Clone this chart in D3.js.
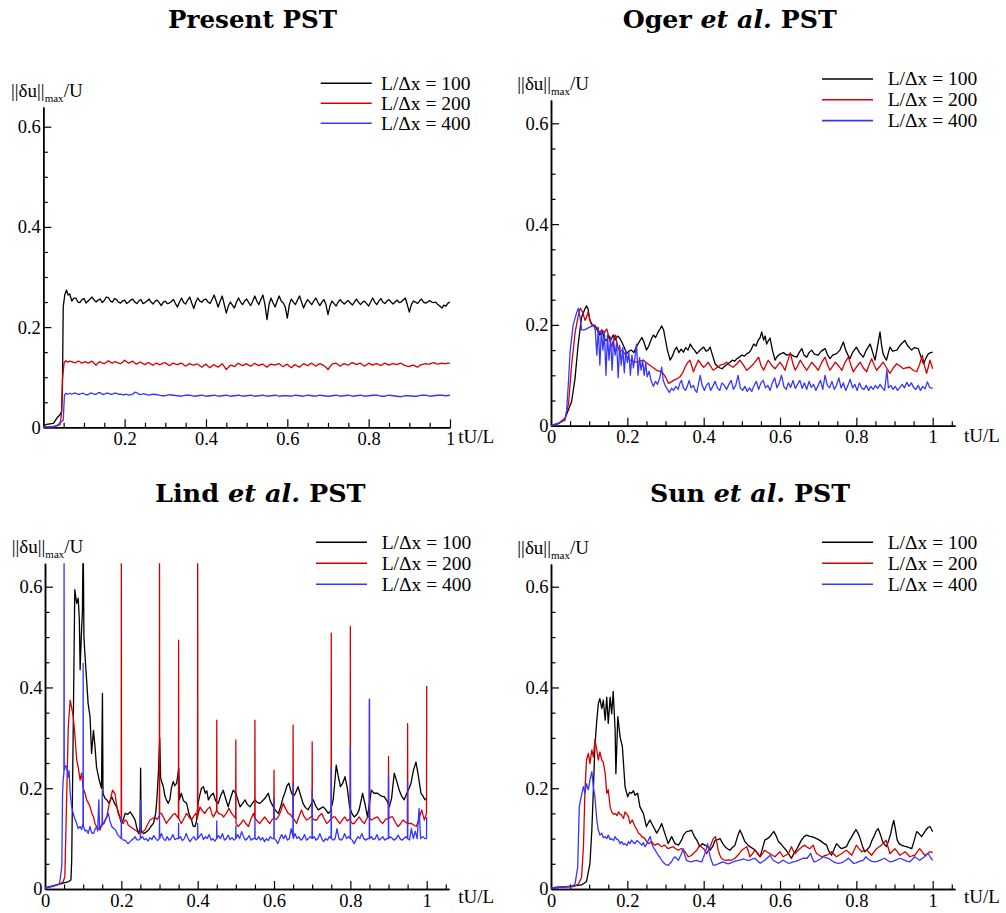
<!DOCTYPE html>
<html>
<head>
<meta charset="utf-8">
<script src="https://cdn.jsdelivr.net/npm/d3@7"></script>
<style>
  body { margin: 0; background: #fff; }
</style>
</head>
<body>
<svg id="fig" width="1006" height="913"></svg>
<script>
// ---- data: [tU/L, ||du||max/U] ----
var seriesNames = ["L/\u0394x = 100", "L/\u0394x = 200", "L/\u0394x = 400"];
var seriesColors = ["#000000", "#d40000", "#3636ff"];
var xTickValues = [0.2, 0.4, 0.6, 0.8, 1];
var yTickValues = [0, 0.2, 0.4, 0.6];
var titles = [["Present", "", "PST"], ["Oger", "et al.", "PST"], ["Lind", "et al.", "PST"], ["Sun", "et al.", "PST"]];

var presentK = [[0,0.002],[0.008,0.006],[0.025,0.008],[0.033,0.018],[0.041,0.025],[0.045,0.032],[0.047,0.075],[0.049,0.241],[0.053,0.265],[0.057,0.274],[0.061,0.264],[0.065,0.266],
 [0.07,0.252],[0.075,0.258],[0.08,0.258],[0.085,0.25],[0.09,0.249],[0.095,0.255],[0.10,0.257],[0.105,0.248],[0.11,0.252],[0.115,0.256],[0.12,0.26],[0.125,0.254],[0.13,0.25],[0.135,0.254],
 [0.14,0.256],[0.145,0.249],[0.15,0.253],[0.155,0.26],[0.16,0.259],[0.165,0.252],[0.17,0.25],[0.175,0.257],[0.18,0.255],[0.185,0.25],[0.19,0.248],[0.195,0.252],[0.20,0.254],[0.205,0.247],
 [0.21,0.25],[0.215,0.254],[0.22,0.256],[0.225,0.25],[0.23,0.247],[0.235,0.252],[0.24,0.255],[0.245,0.247],[0.25,0.249],[0.255,0.252],[0.26,0.256],[0.265,0.25],[0.27,0.246],[0.275,0.252],
 [0.28,0.254],[0.285,0.249],[0.29,0.243],[0.295,0.25],[0.30,0.252],[0.305,0.247],[0.31,0.248],[0.315,0.251],[0.32,0.255],[0.325,0.247],[0.33,0.24],[0.335,0.25],[0.34,0.258],[0.345,0.249],
 [0.35,0.246],[0.355,0.254],[0.36,0.26],[0.365,0.248],[0.37,0.237],[0.375,0.25],[0.38,0.258],[0.385,0.252],[0.39,0.25],[0.395,0.255],[0.40,0.256],[0.405,0.25],[0.41,0.247],[0.415,0.255],
 [0.42,0.264],[0.425,0.252],[0.43,0.24],[0.435,0.252],[0.44,0.262],[0.445,0.245],[0.45,0.228],[0.455,0.242],[0.46,0.25],[0.465,0.244],[0.47,0.238],[0.475,0.25],[0.48,0.258],[0.485,0.25],
 [0.49,0.245],[0.495,0.252],[0.50,0.256],[0.505,0.249],[0.51,0.243],[0.515,0.252],[0.52,0.262],[0.525,0.252],[0.53,0.245],[0.535,0.255],[0.54,0.264],[0.545,0.245],[0.55,0.215],[0.555,0.245],
 [0.56,0.258],[0.565,0.248],[0.57,0.24],[0.575,0.252],[0.58,0.262],[0.585,0.252],[0.59,0.248],[0.595,0.24],[0.60,0.218],[0.605,0.245],[0.61,0.256],[0.615,0.25],[0.62,0.245],[0.625,0.254],
 [0.63,0.262],[0.635,0.25],[0.64,0.238],[0.645,0.248],[0.65,0.255],[0.655,0.25],[0.66,0.245],[0.665,0.252],[0.67,0.258],[0.675,0.25],[0.68,0.243],[0.685,0.25],[0.69,0.255],[0.695,0.245],
 [0.70,0.225],[0.705,0.243],[0.71,0.252],[0.715,0.247],[0.72,0.242],[0.725,0.25],[0.73,0.255],[0.735,0.25],[0.74,0.246],[0.745,0.25],[0.75,0.253],[0.755,0.248],[0.76,0.244],[0.765,0.25],
 [0.77,0.256],[0.775,0.25],[0.78,0.245],[0.785,0.25],[0.79,0.252],[0.795,0.247],[0.80,0.242],[0.805,0.25],[0.81,0.258],[0.815,0.25],[0.82,0.245],[0.825,0.252],[0.83,0.257],[0.835,0.25],
 [0.84,0.247],[0.845,0.252],[0.85,0.255],[0.855,0.25],[0.86,0.246],[0.865,0.25],[0.87,0.254],[0.875,0.249],[0.88,0.25],[0.885,0.254],[0.89,0.258],[0.895,0.245],[0.90,0.23],[0.905,0.245],
 [0.91,0.252],[0.915,0.25],[0.92,0.247],[0.925,0.252],[0.93,0.256],[0.935,0.25],[0.94,0.248],[0.945,0.25],[0.95,0.253],[0.955,0.25],[0.96,0.249],[0.965,0.25],[0.97,0.245],[0.975,0.242],
 [0.98,0.238],[0.985,0.244],[0.99,0.242],[0.995,0.248],[1,0.25]];
var presentR = [[0,0.001],[0.02,0.001],[0.041,0.005],[0.045,0.028],[0.047,0.095],[0.051,0.128],[0.055,0.133],
 [0.06,0.13],[0.065,0.132],[0.07,0.131],[0.075,0.129],[0.08,0.129],[0.085,0.132],[0.09,0.131],[0.095,0.128],[0.10,0.13],[0.105,0.131],[0.11,0.128],[0.115,0.13],[0.12,0.132],[0.125,0.128],
 [0.13,0.124],[0.135,0.129],[0.14,0.131],[0.145,0.128],[0.15,0.127],[0.155,0.13],[0.16,0.133],[0.165,0.13],[0.17,0.128],[0.175,0.131],[0.18,0.13],[0.185,0.128],[0.19,0.127],[0.195,0.13],
 [0.20,0.134],[0.205,0.131],[0.21,0.128],[0.215,0.13],[0.22,0.132],[0.225,0.128],[0.23,0.126],[0.235,0.129],[0.24,0.13],[0.245,0.127],[0.25,0.125],[0.255,0.128],[0.26,0.129],[0.265,0.126],
 [0.27,0.124],[0.275,0.127],[0.28,0.128],[0.285,0.125],[0.29,0.126],[0.295,0.128],[0.30,0.129],[0.305,0.126],[0.31,0.123],[0.315,0.126],[0.32,0.128],[0.325,0.126],[0.33,0.125],[0.335,0.127],
 [0.34,0.128],[0.345,0.125],[0.35,0.122],[0.355,0.125],[0.36,0.127],[0.365,0.125],[0.37,0.124],[0.375,0.126],[0.38,0.126],[0.385,0.123],[0.39,0.12],[0.395,0.124],[0.40,0.126],[0.405,0.122],
 [0.41,0.119],[0.415,0.123],[0.42,0.125],[0.425,0.122],[0.43,0.12],[0.435,0.124],[0.44,0.127],[0.445,0.121],[0.45,0.115],[0.455,0.12],[0.46,0.124],[0.465,0.123],[0.47,0.121],[0.475,0.125],
 [0.48,0.128],[0.485,0.125],[0.49,0.123],[0.495,0.125],[0.50,0.127],[0.505,0.124],[0.51,0.122],[0.515,0.125],[0.52,0.128],[0.525,0.125],[0.53,0.123],[0.535,0.125],[0.54,0.126],[0.545,0.123],
 [0.55,0.12],[0.555,0.124],[0.56,0.126],[0.565,0.125],[0.57,0.124],[0.575,0.126],[0.58,0.127],[0.585,0.124],[0.59,0.121],[0.595,0.124],[0.60,0.126],[0.605,0.122],[0.61,0.119],[0.615,0.123],
 [0.62,0.125],[0.625,0.122],[0.63,0.12],[0.635,0.124],[0.64,0.127],[0.645,0.125],[0.65,0.123],[0.655,0.126],[0.66,0.128],[0.665,0.125],[0.67,0.122],[0.675,0.125],[0.68,0.127],[0.685,0.125],
 [0.69,0.123],[0.695,0.12],[0.70,0.115],[0.705,0.121],[0.71,0.126],[0.715,0.127],[0.72,0.128],[0.725,0.125],[0.73,0.122],[0.735,0.125],[0.74,0.127],[0.745,0.125],[0.75,0.124],[0.755,0.127],
 [0.76,0.129],[0.765,0.127],[0.77,0.125],[0.775,0.127],[0.78,0.128],[0.785,0.125],[0.79,0.122],[0.795,0.125],[0.80,0.128],[0.805,0.126],[0.81,0.124],[0.815,0.126],[0.82,0.127],[0.825,0.125],
 [0.83,0.123],[0.835,0.126],[0.84,0.128],[0.845,0.126],[0.85,0.124],[0.855,0.126],[0.86,0.127],[0.865,0.126],[0.87,0.125],[0.875,0.127],[0.88,0.128],[0.885,0.125],[0.89,0.123],[0.895,0.122],
 [0.90,0.121],[0.905,0.123],[0.91,0.124],[0.915,0.122],[0.92,0.12],[0.925,0.123],[0.93,0.125],[0.935,0.126],[0.94,0.127],[0.945,0.126],[0.95,0.126],[0.955,0.128],[0.96,0.129],[0.965,0.127],
 [0.97,0.126],[0.975,0.127],[0.98,0.128],[0.985,0.127],[0.99,0.127],[0.995,0.128],[1,0.128]];
var presentB = [[0,0.001],[0.03,0.001],[0.049,0.014],[0.052,0.064],[0.056,0.068],[0.06,0.066],[0.065,0.068],[0.07,0.066],[0.075,0.068],[0.08,0.068],[0.085,0.066],[0.09,0.066],[0.095,0.068],
 [0.10,0.067],[0.105,0.065],[0.11,0.065],[0.115,0.068],[0.12,0.068],[0.125,0.066],[0.13,0.066],[0.135,0.069],[0.14,0.069],[0.145,0.066],[0.15,0.066],[0.155,0.068],[0.16,0.068],[0.165,0.066],
 [0.17,0.066],[0.175,0.068],[0.18,0.068],[0.185,0.066],[0.19,0.066],[0.195,0.065],[0.2,0.065],[0.205,0.066],[0.21,0.064],[0.215,0.065],[0.22,0.066],[0.225,0.07],[0.23,0.069],[0.235,0.066],
 [0.24,0.065],[0.245,0.067],[0.25,0.066],[0.255,0.065],[0.26,0.064],[0.27,0.066],[0.28,0.065],[0.29,0.063],[0.3,0.063],[0.31,0.065],[0.32,0.064],[0.33,0.063],[0.34,0.062],[0.35,0.064],
 [0.36,0.064],[0.37,0.062],[0.38,0.063],[0.39,0.064],[0.4,0.062],[0.41,0.063],[0.42,0.064],[0.43,0.062],[0.44,0.063],[0.45,0.064],[0.46,0.062],[0.47,0.063],[0.48,0.064],[0.49,0.062],
 [0.5,0.063],[0.51,0.064],[0.52,0.062],[0.53,0.063],[0.54,0.064],[0.55,0.062],[0.56,0.063],[0.57,0.064],[0.58,0.062],[0.59,0.063],[0.6,0.063],[0.61,0.062],[0.62,0.064],[0.63,0.063],
 [0.64,0.062],[0.65,0.064],[0.66,0.063],[0.67,0.062],[0.68,0.064],[0.69,0.063],[0.7,0.062],[0.71,0.063],[0.72,0.064],[0.73,0.062],[0.74,0.063],[0.75,0.064],[0.76,0.062],[0.77,0.063],
 [0.78,0.064],[0.79,0.062],[0.8,0.063],[0.81,0.064],[0.82,0.064],[0.83,0.062],[0.84,0.062],[0.85,0.064],[0.86,0.063],[0.87,0.062],[0.88,0.061],[0.89,0.063],[0.9,0.063],[0.91,0.062],
 [0.92,0.062],[0.93,0.064],[0.94,0.064],[0.95,0.062],[0.96,0.063],[0.97,0.064],[0.98,0.064],[0.99,0.063],[1,0.064]];

var ogerK = [[0,0],[0.02,0.004],[0.037,0.015],[0.054,0.048],[0.063,0.094],[0.071,0.16],[0.08,0.215],[0.089,0.232],[0.093,0.238],[0.097,0.232],[0.102,0.209],[0.108,0.2],[0.115,0.199],
 [0.121,0.19],[0.128,0.18],[0.134,0.188],[0.14,0.172],[0.146,0.169],[0.152,0.178],[0.158,0.172],[0.163,0.18],[0.168,0.17],[0.174,0.178],[0.18,0.174],[0.186,0.165],[0.192,0.155],[0.198,0.143],
 [0.204,0.148],[0.211,0.15],[0.217,0.145],[0.224,0.157],[0.23,0.165],[0.238,0.175],[0.244,0.165],[0.25,0.15],[0.256,0.158],[0.262,0.17],[0.268,0.18],[0.274,0.175],[0.28,0.185],[0.286,0.192],
 [0.29,0.198],[0.295,0.19],[0.299,0.174],[0.305,0.15],[0.312,0.13],[0.318,0.138],[0.324,0.15],[0.329,0.156],[0.335,0.145],[0.341,0.152],[0.347,0.146],[0.353,0.155],[0.359,0.15],[0.365,0.162],
 [0.37,0.155],[0.376,0.15],[0.382,0.143],[0.388,0.148],[0.394,0.152],[0.4,0.156],[0.406,0.148],[0.412,0.15],[0.417,0.156],[0.423,0.14],[0.43,0.123],[0.436,0.118],[0.442,0.115],[0.448,0.113],
 [0.455,0.118],[0.462,0.122],[0.469,0.126],[0.475,0.13],[0.481,0.128],[0.487,0.133],[0.493,0.136],[0.5,0.14],[0.507,0.138],[0.513,0.143],[0.519,0.145],[0.525,0.152],[0.531,0.162],[0.537,0.158],
 [0.543,0.17],[0.548,0.175],[0.552,0.186],[0.557,0.17],[0.561,0.178],[0.565,0.162],[0.569,0.168],[0.574,0.174],[0.58,0.15],[0.587,0.13],[0.593,0.138],[0.6,0.142],[0.609,0.145],[0.618,0.14],
 [0.627,0.142],[0.636,0.138],[0.644,0.136],[0.65,0.145],[0.657,0.153],[0.663,0.14],[0.67,0.136],[0.676,0.145],[0.683,0.15],[0.69,0.142],[0.7,0.14],[0.708,0.148],[0.718,0.153],[0.725,0.14],
 [0.731,0.133],[0.738,0.14],[0.748,0.143],[0.757,0.15],[0.766,0.166],[0.772,0.15],[0.778,0.14],[0.783,0.133],[0.79,0.145],[0.8,0.156],[0.808,0.145],[0.818,0.136],[0.826,0.15],[0.836,0.162],
 [0.843,0.145],[0.849,0.13],[0.856,0.16],[0.862,0.186],[0.866,0.16],[0.87,0.143],[0.875,0.135],[0.879,0.13],[0.884,0.145],[0.888,0.156],[0.895,0.148],[0.906,0.15],[0.915,0.16],[0.927,0.169],
 [0.935,0.158],[0.945,0.15],[0.952,0.155],[0.962,0.153],[0.97,0.135],[0.976,0.123],[0.983,0.135],[0.989,0.143],[0.995,0.145],[1,0.146]];
var ogerR = [[0,0],[0.02,0.005],[0.037,0.015],[0.046,0.044],[0.054,0.12],[0.063,0.184],[0.071,0.217],[0.077,0.233],[0.083,0.225],[0.089,0.209],[0.093,0.215],[0.097,0.225],[0.102,0.21],
 [0.106,0.2],[0.113,0.198],[0.12,0.195],[0.127,0.185],[0.133,0.19],[0.14,0.185],[0.146,0.192],[0.152,0.175],[0.159,0.156],[0.163,0.168],[0.168,0.18],[0.174,0.16],[0.18,0.146],[0.186,0.15],
 [0.193,0.143],[0.2,0.135],[0.207,0.13],[0.215,0.128],[0.224,0.126],[0.233,0.128],[0.242,0.13],[0.25,0.125],[0.259,0.12],[0.268,0.115],[0.277,0.11],[0.285,0.108],[0.294,0.104],[0.301,0.095],
 [0.308,0.084],[0.315,0.087],[0.321,0.09],[0.33,0.093],[0.338,0.097],[0.345,0.105],[0.351,0.116],[0.358,0.125],[0.364,0.13],[0.369,0.118],[0.373,0.107],[0.379,0.118],[0.386,0.13],[0.393,0.122],
 [0.4,0.116],[0.406,0.12],[0.412,0.126],[0.418,0.118],[0.425,0.11],[0.434,0.115],[0.443,0.12],[0.452,0.122],[0.46,0.126],[0.468,0.12],[0.477,0.116],[0.486,0.122],[0.495,0.13],[0.504,0.12],
 [0.513,0.11],[0.522,0.116],[0.531,0.123],[0.538,0.13],[0.544,0.136],[0.55,0.12],[0.557,0.11],[0.563,0.12],[0.569,0.13],[0.578,0.12],[0.587,0.113],[0.594,0.12],[0.6,0.126],[0.607,0.118],
 [0.613,0.11],[0.62,0.128],[0.627,0.145],[0.633,0.125],[0.64,0.11],[0.647,0.12],[0.653,0.13],[0.661,0.12],[0.67,0.11],[0.677,0.118],[0.683,0.126],[0.692,0.118],[0.7,0.11],[0.709,0.125],
 [0.718,0.136],[0.725,0.12],[0.731,0.11],[0.738,0.118],[0.745,0.126],[0.754,0.118],[0.762,0.11],[0.77,0.125],[0.779,0.136],[0.786,0.12],[0.792,0.107],[0.8,0.116],[0.81,0.126],[0.818,0.115],
 [0.827,0.107],[0.833,0.12],[0.84,0.133],[0.847,0.12],[0.853,0.11],[0.862,0.118],[0.87,0.126],[0.879,0.115],[0.888,0.104],[0.897,0.115],[0.906,0.123],[0.915,0.118],[0.923,0.113],[0.932,0.115],
 [0.94,0.116],[0.949,0.11],[0.958,0.107],[0.965,0.12],[0.973,0.14],[0.978,0.12],[0.984,0.104],[0.989,0.118],[0.993,0.13],[0.997,0.12],[1,0.113]];
var ogerB = [[0,0],[0.02,0.005],[0.037,0.011],[0.041,0.03],[0.046,0.09],[0.05,0.147],[0.058,0.2],[0.067,0.224],[0.072,0.233],[0.076,0.215],[0.08,0.19],[0.087,0.19],[0.093,0.192],[0.1,0.195],
 [0.106,0.197],[0.112,0.199],[0.116,0.19],[0.12,0.14],[0.124,0.195],[0.128,0.12],[0.132,0.19],[0.136,0.15],[0.14,0.185],[0.144,0.1],[0.148,0.18],[0.152,0.13],[0.156,0.175],[0.16,0.11],
 [0.164,0.17],[0.168,0.14],[0.172,0.165],[0.176,0.095],[0.18,0.16],[0.184,0.12],[0.188,0.155],[0.192,0.105],[0.196,0.15],[0.2,0.125],[0.204,0.145],[0.208,0.1],[0.212,0.14],[0.216,0.115],
 [0.22,0.135],[0.224,0.162],[0.228,0.1],[0.232,0.135],[0.236,0.11],[0.24,0.13],[0.244,0.1],[0.248,0.125],[0.252,0.097],[0.257,0.108],[0.262,0.09],[0.268,0.078],[0.274,0.088],[0.279,0.082],
 [0.285,0.095],[0.29,0.116],[0.294,0.09],[0.299,0.08],[0.305,0.072],[0.31,0.066],[0.316,0.074],[0.321,0.07],[0.327,0.078],[0.333,0.072],[0.338,0.085],[0.342,0.09],[0.347,0.075],[0.352,0.07],
 [0.357,0.078],[0.362,0.09],[0.367,0.075],[0.373,0.08],[0.378,0.07],[0.382,0.066],[0.387,0.085],[0.391,0.1],[0.396,0.08],[0.402,0.07],[0.407,0.08],[0.413,0.085],[0.418,0.07],[0.424,0.078],
 [0.43,0.088],[0.436,0.075],[0.442,0.07],[0.448,0.085],[0.454,0.08],[0.46,0.072],[0.466,0.082],[0.472,0.09],[0.478,0.072],[0.484,0.08],[0.49,0.1],[0.496,0.075],[0.502,0.07],[0.508,0.078],
 [0.514,0.068],[0.52,0.075],[0.526,0.068],[0.532,0.08],[0.538,0.088],[0.544,0.072],[0.55,0.085],[0.556,0.09],[0.562,0.075],[0.568,0.08],[0.574,0.07],[0.58,0.085],[0.586,0.095],[0.592,0.075],
 [0.598,0.085],[0.604,0.1],[0.61,0.078],[0.616,0.072],[0.622,0.085],[0.628,0.076],[0.634,0.09],[0.64,0.074],[0.646,0.082],[0.652,0.09],[0.658,0.074],[0.664,0.085],[0.67,0.072],[0.676,0.088],
 [0.682,0.076],[0.688,0.082],[0.694,0.07],[0.7,0.08],[0.706,0.09],[0.712,0.072],[0.718,0.1],[0.724,0.08],[0.73,0.075],[0.736,0.088],[0.742,0.072],[0.748,0.08],[0.754,0.095],[0.76,0.075],
 [0.766,0.085],[0.772,0.07],[0.778,0.08],[0.784,0.092],[0.79,0.075],[0.796,0.082],[0.802,0.07],[0.808,0.085],[0.814,0.075],[0.82,0.072],[0.826,0.08],[0.832,0.07],[0.838,0.078],[0.844,0.072],
 [0.85,0.08],[0.856,0.074],[0.862,0.082],[0.868,0.075],[0.874,0.07],[0.88,0.11],[0.884,0.075],[0.89,0.08],[0.896,0.072],[0.902,0.078],[0.908,0.07],[0.914,0.076],[0.92,0.082],[0.926,0.075],
 [0.932,0.086],[0.938,0.078],[0.944,0.085],[0.95,0.076],[0.956,0.072],[0.962,0.08],[0.968,0.07],[0.974,0.078],[0.98,0.073],[0.986,0.087],[0.992,0.076],[1,0.074]];

var lindK = [[0,0.002],[0.02,0.006],[0.04,0.01],[0.06,0.014],[0.068,0.018],[0.07,0.058],[0.074,0.322],[0.078,0.594],[0.083,0.567],[0.087,0.577],[0.09,0.534],[0.092,0.435],[0.095,0.5],
 [0.098,0.55],[0.1,0.7],[0.102,0.5],[0.105,0.461],[0.109,0.415],[0.113,0.368],[0.118,0.342],[0.122,0.269],[0.127,0.315],[0.131,0.282],[0.135,0.242],[0.142,0.216],[0.148,0.2],[0.1505,0.388],
 [0.152,0.19],[0.157,0.18],[0.162,0.177],[0.168,0.17],[0.175,0.183],[0.182,0.17],[0.188,0.163],[0.195,0.145],[0.201,0.13],[0.206,0.14],[0.21,0.15],[0.217,0.148],[0.223,0.153],[0.23,0.145],
 [0.236,0.137],[0.241,0.12],[0.245,0.11],[0.249,0.12],[0.2505,0.24],[0.252,0.115],[0.258,0.11],[0.265,0.113],[0.271,0.117],[0.278,0.125],[0.284,0.13],[0.29,0.15],[0.293,0.177],[0.297,0.23],
 [0.3005,0.3],[0.303,0.22],[0.307,0.21],[0.31,0.203],[0.314,0.185],[0.318,0.177],[0.323,0.17],[0.327,0.177],[0.331,0.2],[0.336,0.213],[0.34,0.205],[0.345,0.21],[0.3505,0.24],[0.352,0.177],
 [0.357,0.19],[0.363,0.175],[0.371,0.17],[0.377,0.15],[0.384,0.137],[0.388,0.125],[0.393,0.124],[0.397,0.135],[0.401,0.17],[0.405,0.185],[0.41,0.2],[0.415,0.203],[0.42,0.19],[0.424,0.195],
 [0.428,0.177],[0.434,0.185],[0.441,0.19],[0.447,0.175],[0.454,0.17],[0.46,0.185],[0.467,0.196],[0.473,0.18],[0.48,0.163],[0.486,0.18],[0.493,0.196],[0.5,0.19],[0.506,0.175],[0.511,0.163],
 [0.518,0.17],[0.524,0.177],[0.53,0.168],[0.537,0.163],[0.543,0.17],[0.55,0.177],[0.556,0.172],[0.563,0.17],[0.57,0.175],[0.576,0.18],[0.585,0.19],[0.59,0.175],[0.598,0.163],[0.605,0.155],
 [0.611,0.15],[0.618,0.165],[0.623,0.18],[0.628,0.19],[0.634,0.205],[0.639,0.21],[0.644,0.195],[0.65,0.183],[0.656,0.19],[0.663,0.203],[0.668,0.19],[0.676,0.17],[0.682,0.162],[0.689,0.157],
 [0.695,0.165],[0.703,0.177],[0.709,0.165],[0.716,0.157],[0.722,0.16],[0.729,0.163],[0.735,0.158],[0.742,0.15],[0.748,0.155],[0.755,0.177],[0.759,0.21],[0.763,0.246],[0.768,0.225],
 [0.774,0.203],[0.78,0.21],[0.786,0.223],[0.792,0.2],[0.798,0.163],[0.804,0.15],[0.81,0.143],[0.817,0.148],[0.823,0.157],[0.828,0.175],[0.832,0.19],[0.838,0.17],[0.845,0.143],[0.85,0.17],
 [0.855,0.196],[0.862,0.19],[0.871,0.19],[0.88,0.185],[0.889,0.183],[0.896,0.175],[0.902,0.163],[0.908,0.18],[0.915,0.23],[0.921,0.215],[0.928,0.196],[0.934,0.185],[0.941,0.177],[0.948,0.19],
 [0.954,0.2],[0.959,0.21],[0.965,0.235],[0.972,0.252],[0.978,0.225],[0.985,0.19],[0.99,0.185],[0.995,0.177],[1,0.18]];
var lindR = [[0,0.002],[0.02,0.005],[0.04,0.01],[0.048,0.015],[0.052,0.025],[0.057,0.19],[0.061,0.322],[0.066,0.375],[0.07,0.359],[0.074,0.342],[0.078,0.309],[0.083,0.256],[0.087,0.242],
 [0.092,0.216],[0.096,0.23],[0.1,0.2],[0.105,0.19],[0.109,0.177],[0.114,0.17],[0.118,0.163],[0.123,0.15],[0.127,0.143],[0.131,0.13],[0.135,0.124],[0.14,0.12],[0.144,0.117],[0.148,0.125],
 [0.153,0.13],[0.158,0.138],[0.162,0.143],[0.166,0.16],[0.171,0.177],[0.177,0.196],[0.183,0.19],[0.188,0.165],[0.192,0.15],[0.197,0.14],[0.1995,0.135],[0.2,0.7],[0.2005,0.135],[0.205,0.13],
 [0.21,0.137],[0.214,0.135],[0.218,0.127],[0.223,0.124],[0.23,0.12],[0.236,0.117],[0.242,0.114],[0.249,0.11],[0.256,0.114],[0.262,0.117],[0.268,0.127],[0.275,0.137],[0.282,0.14],[0.288,0.143],
 [0.294,0.138],[0.2995,0.145],[0.3,0.7],[0.3005,0.15],[0.305,0.15],[0.312,0.14],[0.318,0.13],[0.324,0.137],[0.331,0.143],[0.336,0.148],[0.34,0.15],[0.345,0.145],[0.3495,0.14],[0.35,0.494],
 [0.3505,0.14],[0.357,0.13],[0.364,0.14],[0.371,0.15],[0.377,0.143],[0.384,0.137],[0.39,0.145],[0.395,0.15],[0.3995,0.14],[0.4,0.7],[0.4005,0.145],[0.406,0.163],[0.412,0.155],[0.419,0.15],
 [0.425,0.158],[0.432,0.163],[0.437,0.15],[0.441,0.143],[0.446,0.15],[0.4495,0.155],[0.45,0.335],[0.4505,0.155],[0.455,0.15],[0.462,0.148],[0.468,0.143],[0.475,0.15],[0.482,0.16],[0.489,0.15],
 [0.4995,0.14],[0.5,0.296],[0.5005,0.13],[0.506,0.124],[0.513,0.13],[0.52,0.137],[0.526,0.13],[0.533,0.124],[0.54,0.14],[0.546,0.15],[0.5495,0.14],[0.55,0.335],[0.5505,0.14],[0.556,0.135],
 [0.563,0.13],[0.57,0.138],[0.576,0.143],[0.583,0.135],[0.589,0.13],[0.595,0.138],[0.5995,0.14],[0.6,0.236],[0.6005,0.14],[0.606,0.138],[0.611,0.143],[0.618,0.155],[0.624,0.17],[0.63,0.16],
 [0.637,0.15],[0.643,0.148],[0.6495,0.14],[0.65,0.325],[0.6505,0.14],[0.655,0.135],[0.659,0.13],[0.665,0.143],[0.672,0.157],[0.678,0.145],[0.685,0.137],[0.692,0.14],[0.6995,0.145],[0.7,0.292],
 [0.7005,0.14],[0.706,0.137],[0.712,0.137],[0.718,0.145],[0.725,0.15],[0.731,0.14],[0.738,0.13],[0.745,0.135],[0.7495,0.14],[0.75,0.508],[0.7505,0.14],[0.755,0.143],[0.76,0.143],[0.767,0.135],
 [0.773,0.13],[0.779,0.137],[0.785,0.143],[0.792,0.135],[0.7995,0.14],[0.8,0.521],[0.8005,0.135],[0.805,0.13],[0.81,0.13],[0.817,0.137],[0.823,0.143],[0.83,0.135],[0.837,0.13],[0.843,0.14],
 [0.8495,0.145],[0.85,0.377],[0.8505,0.14],[0.855,0.137],[0.862,0.14],[0.871,0.143],[0.878,0.135],[0.885,0.13],[0.892,0.138],[0.8995,0.14],[0.9,0.263],[0.9005,0.14],[0.906,0.143],[0.911,0.143],
 [0.918,0.132],[0.925,0.124],[0.932,0.13],[0.938,0.137],[0.944,0.133],[0.9495,0.13],[0.95,0.328],[0.9505,0.13],[0.955,0.13],[0.96,0.13],[0.966,0.127],[0.973,0.124],[0.98,0.14],[0.987,0.157],
 [0.991,0.145],[0.994,0.137],[0.9995,0.15],[1,0.403]];
var lindB = [[0,0.002],[0.02,0.005],[0.038,0.01],[0.044,0.045],[0.046,0.19],[0.048,0.22],[0.0495,0.23],[0.05,0.7],[0.0505,0.235],[0.054,0.245],[0.057,0.242],[0.061,0.222],[0.063,0.235],
 [0.066,0.19],[0.07,0.163],[0.074,0.15],[0.078,0.14],[0.083,0.13],[0.087,0.12],[0.092,0.124],[0.096,0.118],[0.0995,0.13],[0.1,0.448],[0.1005,0.125],[0.105,0.115],[0.109,0.117],[0.113,0.11],
 [0.118,0.124],[0.122,0.112],[0.127,0.11],[0.131,0.118],[0.135,0.124],[0.138,0.115],[0.141,0.177],[0.143,0.12],[0.146,0.124],[0.1495,0.13],[0.15,0.196],[0.1505,0.13],[0.155,0.13],[0.16,0.14],
 [0.166,0.15],[0.17,0.135],[0.175,0.124],[0.18,0.12],[0.185,0.117],[0.19,0.108],[0.195,0.104],[0.1995,0.1],[0.2,0.143],[0.2005,0.1],[0.205,0.097],[0.21,0.097],[0.215,0.092],[0.218,0.09],
 [0.223,0.094],[0.227,0.097],[0.232,0.1],[0.236,0.104],[0.24,0.098],[0.245,0.097],[0.2495,0.1],[0.25,0.177],[0.2505,0.1],[0.255,0.104],[0.26,0.098],[0.265,0.1],[0.27,0.095],[0.275,0.102],
 [0.28,0.098],[0.285,0.106],[0.29,0.1],[0.295,0.096],[0.2995,0.1],[0.3,0.15],[0.3005,0.1],[0.305,0.11],[0.31,0.1],[0.315,0.096],[0.32,0.104],[0.325,0.097],[0.33,0.1],[0.335,0.108],[0.34,0.098],
 [0.345,0.1],[0.3495,0.1],[0.35,0.13],[0.3505,0.1],[0.355,0.104],[0.36,0.096],[0.365,0.1],[0.37,0.11],[0.375,0.1],[0.38,0.094],[0.385,0.1],[0.39,0.104],[0.395,0.097],[0.3995,0.1],[0.4,0.13],
 [0.4005,0.1],[0.405,0.105],[0.41,0.11],[0.415,0.098],[0.42,0.104],[0.425,0.1],[0.43,0.108],[0.435,0.097],[0.44,0.1],[0.445,0.095],[0.4495,0.1],[0.45,0.135],[0.4505,0.1],[0.455,0.106],
 [0.46,0.1],[0.465,0.11],[0.47,0.097],[0.475,0.1],[0.48,0.107],[0.485,0.098],[0.49,0.102],[0.495,0.097],[0.4995,0.1],[0.5,0.125],[0.5005,0.1],[0.505,0.108],[0.51,0.1],[0.515,0.114],[0.52,0.104],
 [0.525,0.097],[0.53,0.1],[0.535,0.106],[0.54,0.097],[0.545,0.1],[0.5495,0.1],[0.55,0.14],[0.5505,0.1],[0.555,0.098],[0.56,0.104],[0.565,0.097],[0.57,0.102],[0.575,0.094],[0.58,0.1],
 [0.585,0.096],[0.59,0.104],[0.595,0.1],[0.5995,0.1],[0.6,0.18],[0.6005,0.1],[0.605,0.097],[0.61,0.09],[0.615,0.1],[0.62,0.108],[0.625,0.1],[0.63,0.107],[0.635,0.097],[0.64,0.1],[0.645,0.12],
 [0.6495,0.104],[0.65,0.21],[0.6505,0.1],[0.655,0.11],[0.66,0.1],[0.665,0.104],[0.67,0.097],[0.675,0.1],[0.68,0.108],[0.685,0.097],[0.69,0.1],[0.695,0.104],[0.6995,0.1],[0.7,0.196],[0.7005,0.1],
 [0.705,0.104],[0.71,0.097],[0.715,0.1],[0.72,0.11],[0.725,0.1],[0.73,0.094],[0.735,0.1],[0.74,0.097],[0.745,0.104],[0.7495,0.1],[0.75,0.24],[0.7505,0.1],[0.755,0.097],[0.76,0.1],[0.765,0.12],
 [0.77,0.1],[0.775,0.097],[0.78,0.1],[0.785,0.11],[0.79,0.1],[0.795,0.104],[0.7995,0.1],[0.8,0.282],[0.8005,0.1],[0.805,0.097],[0.81,0.09],[0.815,0.098],[0.82,0.104],[0.825,0.1],[0.83,0.11],
 [0.835,0.1],[0.84,0.097],[0.845,0.1],[0.8495,0.1],[0.85,0.375],[0.8505,0.1],[0.855,0.104],[0.86,0.098],[0.865,0.1],[0.87,0.108],[0.875,0.097],[0.88,0.1],[0.885,0.104],[0.89,0.097],[0.895,0.1],
 [0.8995,0.1],[0.9,0.226],[0.9005,0.1],[0.905,0.104],[0.91,0.1],[0.915,0.097],[0.92,0.1],[0.925,0.107],[0.93,0.1],[0.935,0.097],[0.94,0.1],[0.945,0.104],[0.9495,0.1],[0.95,0.213],[0.9505,0.1],
 [0.955,0.097],[0.96,0.12],[0.965,0.1],[0.97,0.115],[0.975,0.1],[0.98,0.16],[0.984,0.1],[0.99,0.104],[0.995,0.1],[0.9995,0.1],[1,0.143]];

var sunK = [[0,0.002],[0.03,0.004],[0.06,0.006],[0.08,0.008],[0.093,0.015],[0.102,0.05],[0.107,0.117],[0.111,0.197],[0.115,0.283],[0.12,0.335],[0.124,0.368],[0.128,0.378],[0.133,0.358],
 [0.137,0.375],[0.142,0.335],[0.146,0.381],[0.15,0.329],[0.155,0.381],[0.159,0.348],[0.163,0.392],[0.168,0.315],[0.17,0.229],[0.175,0.342],[0.181,0.302],[0.187,0.282],[0.194,0.203],[0.201,0.183],
 [0.206,0.192],[0.211,0.19],[0.216,0.195],[0.22,0.186],[0.227,0.19],[0.233,0.163],[0.242,0.15],[0.25,0.124],[0.259,0.137],[0.268,0.124],[0.277,0.111],[0.284,0.12],[0.29,0.13],[0.298,0.111],
 [0.307,0.09],[0.316,0.104],[0.325,0.09],[0.334,0.087],[0.342,0.097],[0.348,0.108],[0.355,0.114],[0.362,0.115],[0.368,0.117],[0.375,0.105],[0.382,0.097],[0.39,0.084],[0.396,0.09],[0.403,0.087],
 [0.41,0.085],[0.417,0.077],[0.424,0.085],[0.43,0.097],[0.437,0.098],[0.443,0.1],[0.45,0.09],[0.456,0.084],[0.462,0.08],[0.469,0.077],[0.476,0.083],[0.482,0.087],[0.489,0.105],[0.495,0.117],
 [0.502,0.105],[0.508,0.094],[0.515,0.088],[0.521,0.084],[0.534,0.078],[0.548,0.064],[0.554,0.08],[0.56,0.097],[0.567,0.1],[0.574,0.104],[0.579,0.11],[0.584,0.114],[0.59,0.105],[0.596,0.094],
 [0.602,0.09],[0.608,0.084],[0.615,0.078],[0.622,0.07],[0.63,0.061],[0.636,0.07],[0.643,0.078],[0.65,0.088],[0.656,0.097],[0.663,0.104],[0.67,0.107],[0.676,0.105],[0.683,0.104],[0.69,0.102],
 [0.696,0.1],[0.703,0.097],[0.709,0.094],[0.716,0.09],[0.722,0.087],[0.728,0.075],[0.735,0.067],[0.741,0.078],[0.748,0.09],[0.754,0.085],[0.761,0.08],[0.768,0.082],[0.774,0.084],[0.781,0.095],
 [0.788,0.104],[0.794,0.112],[0.799,0.118],[0.805,0.11],[0.81,0.1],[0.816,0.085],[0.822,0.074],[0.828,0.078],[0.835,0.084],[0.84,0.095],[0.846,0.104],[0.852,0.115],[0.857,0.12],[0.863,0.108],
 [0.869,0.094],[0.874,0.088],[0.879,0.084],[0.884,0.095],[0.89,0.11],[0.894,0.125],[0.898,0.136],[0.902,0.12],[0.907,0.097],[0.912,0.09],[0.918,0.087],[0.925,0.085],[0.931,0.084],[0.938,0.082],
 [0.945,0.08],[0.951,0.095],[0.958,0.114],[0.964,0.11],[0.971,0.104],[0.976,0.11],[0.982,0.117],[0.988,0.122],[0.993,0.124],[0.997,0.118],[1,0.114]];
var sunR = [[0,0.002],[0.03,0.004],[0.06,0.005],[0.072,0.01],[0.08,0.023],[0.085,0.084],[0.089,0.197],[0.093,0.256],[0.098,0.269],[0.102,0.249],[0.107,0.276],[0.111,0.262],[0.115,0.296],
 [0.12,0.276],[0.124,0.256],[0.128,0.272],[0.133,0.256],[0.137,0.252],[0.142,0.229],[0.146,0.19],[0.15,0.197],[0.155,0.163],[0.159,0.153],[0.164,0.148],[0.168,0.15],[0.173,0.146],[0.177,0.153],
 [0.181,0.148],[0.185,0.147],[0.19,0.14],[0.194,0.153],[0.199,0.148],[0.203,0.143],[0.207,0.13],[0.213,0.137],[0.22,0.124],[0.225,0.118],[0.229,0.111],[0.234,0.108],[0.238,0.104],[0.242,0.102],
 [0.246,0.1],[0.25,0.095],[0.255,0.09],[0.26,0.092],[0.264,0.094],[0.268,0.089],[0.273,0.087],[0.277,0.089],[0.281,0.09],[0.286,0.086],[0.29,0.084],[0.294,0.086],[0.298,0.087],[0.303,0.083],
 [0.307,0.08],[0.313,0.082],[0.32,0.084],[0.327,0.08],[0.334,0.077],[0.338,0.079],[0.342,0.08],[0.347,0.077],[0.351,0.074],[0.356,0.068],[0.36,0.064],[0.364,0.065],[0.368,0.067],[0.375,0.072],
 [0.382,0.077],[0.386,0.082],[0.39,0.087],[0.395,0.083],[0.4,0.08],[0.404,0.075],[0.408,0.07],[0.412,0.077],[0.417,0.084],[0.421,0.092],[0.425,0.1],[0.431,0.104],[0.435,0.09],[0.438,0.077],
 [0.443,0.066],[0.447,0.06],[0.453,0.058],[0.46,0.057],[0.467,0.058],[0.473,0.057],[0.48,0.06],[0.486,0.064],[0.493,0.07],[0.5,0.077],[0.507,0.081],[0.513,0.084],[0.517,0.075],[0.521,0.064],
 [0.528,0.07],[0.534,0.077],[0.541,0.07],[0.548,0.064],[0.554,0.07],[0.56,0.077],[0.567,0.073],[0.574,0.07],[0.58,0.067],[0.587,0.064],[0.593,0.069],[0.6,0.074],[0.604,0.069],[0.608,0.064],
 [0.615,0.067],[0.622,0.07],[0.626,0.077],[0.63,0.084],[0.634,0.077],[0.639,0.07],[0.645,0.075],[0.652,0.08],[0.658,0.084],[0.665,0.087],[0.671,0.083],[0.678,0.08],[0.683,0.084],[0.687,0.087],
 [0.691,0.078],[0.696,0.07],[0.703,0.067],[0.709,0.064],[0.716,0.066],[0.722,0.067],[0.729,0.07],[0.735,0.074],[0.741,0.069],[0.748,0.064],[0.754,0.067],[0.761,0.07],[0.768,0.074],[0.774,0.077],
 [0.781,0.072],[0.788,0.067],[0.794,0.077],[0.8,0.087],[0.807,0.08],[0.814,0.074],[0.82,0.076],[0.827,0.077],[0.834,0.072],[0.84,0.067],[0.847,0.074],[0.853,0.08],[0.86,0.084],[0.866,0.087],
 [0.872,0.092],[0.878,0.097],[0.883,0.083],[0.888,0.07],[0.894,0.075],[0.901,0.08],[0.907,0.074],[0.914,0.067],[0.92,0.07],[0.927,0.074],[0.934,0.069],[0.94,0.064],[0.947,0.066],[0.953,0.067],
 [0.96,0.074],[0.966,0.08],[0.973,0.073],[0.979,0.067],[0.986,0.07],[0.993,0.074],[1,0.072]];
var sunB = [[0,0.002],[0.03,0.004],[0.055,0.005],[0.063,0.01],[0.07,0.044],[0.074,0.163],[0.079,0.183],[0.085,0.203],[0.089,0.19],[0.093,0.209],[0.098,0.197],[0.102,0.216],[0.107,0.233],
 [0.111,0.203],[0.115,0.183],[0.12,0.137],[0.124,0.117],[0.128,0.107],[0.133,0.111],[0.137,0.102],[0.142,0.104],[0.146,0.1],[0.15,0.107],[0.155,0.098],[0.159,0.1],[0.164,0.096],[0.168,0.104],
 [0.172,0.099],[0.177,0.097],[0.181,0.09],[0.185,0.094],[0.19,0.088],[0.194,0.09],[0.199,0.086],[0.203,0.094],[0.207,0.09],[0.211,0.097],[0.216,0.092],[0.22,0.09],[0.225,0.096],[0.229,0.094],
 [0.234,0.09],[0.238,0.087],[0.242,0.092],[0.246,0.084],[0.25,0.088],[0.255,0.097],[0.26,0.104],[0.264,0.09],[0.268,0.083],[0.273,0.077],[0.277,0.072],[0.281,0.067],[0.286,0.062],[0.29,0.057],
 [0.294,0.053],[0.298,0.05],[0.303,0.048],[0.307,0.047],[0.311,0.05],[0.316,0.054],[0.32,0.06],[0.325,0.064],[0.33,0.06],[0.334,0.057],[0.338,0.064],[0.342,0.07],[0.346,0.08],[0.35,0.068],
 [0.355,0.057],[0.361,0.055],[0.368,0.054],[0.375,0.056],[0.382,0.057],[0.388,0.055],[0.395,0.054],[0.399,0.062],[0.403,0.07],[0.407,0.08],[0.41,0.09],[0.414,0.075],[0.417,0.064],[0.421,0.055],
 [0.425,0.047],[0.431,0.048],[0.438,0.05],[0.444,0.052],[0.451,0.054],[0.457,0.052],[0.464,0.05],[0.471,0.052],[0.478,0.054],[0.484,0.056],[0.491,0.057],[0.497,0.058],[0.504,0.06],[0.51,0.058],
 [0.517,0.057],[0.521,0.057],[0.528,0.06],[0.534,0.061],[0.541,0.056],[0.548,0.051],[0.554,0.054],[0.56,0.057],[0.567,0.062],[0.574,0.067],[0.578,0.062],[0.582,0.057],[0.589,0.054],[0.596,0.051],
 [0.602,0.054],[0.608,0.057],[0.615,0.054],[0.622,0.051],[0.628,0.052],[0.634,0.054],[0.641,0.055],[0.648,0.057],[0.654,0.059],[0.661,0.061],[0.666,0.061],[0.671,0.061],[0.676,0.066],[0.68,0.071],
 [0.684,0.062],[0.689,0.054],[0.695,0.055],[0.7,0.057],[0.707,0.06],[0.714,0.064],[0.72,0.062],[0.727,0.061],[0.734,0.057],[0.74,0.054],[0.747,0.052],[0.753,0.051],[0.76,0.052],[0.766,0.054],
 [0.773,0.057],[0.779,0.061],[0.786,0.056],[0.792,0.051],[0.799,0.052],[0.805,0.054],[0.812,0.056],[0.818,0.057],[0.825,0.064],[0.83,0.06],[0.835,0.057],[0.842,0.055],[0.848,0.054],[0.855,0.055],
 [0.861,0.057],[0.868,0.059],[0.874,0.061],[0.881,0.057],[0.888,0.054],[0.895,0.055],[0.901,0.057],[0.908,0.059],[0.914,0.061],[0.921,0.059],[0.927,0.057],[0.934,0.055],[0.94,0.054],[0.947,0.059],
 [0.953,0.064],[0.96,0.06],[0.966,0.057],[0.973,0.061],[0.979,0.064],[0.984,0.068],[0.988,0.071],[0.994,0.063],[1,0.057]];

// ---- layout of the four frames (pixels) ----
var SERIF = "Liberation Serif";
var frames = [
  {x0: 43.3, x1: 450, xEnd: 450, y0: 427.3, y6: 126.7, yTop: 107, zeroX: false,
   titleX: 252.5, titleY: 28, titleW: 169, ylabX: 11, ylabY: 96.7, tulX: 458.3, tulY: 443,
   legX: 320.7, legY: 83.3, legDy: 20, legTx: 60.3},
  {x0: 551, x1: 932.7, xEnd: 955, y0: 425.7, y6: 123.3, yTop: 100, zeroX: true,
   titleX: 729.7, titleY: 28.3, titleW: 214, ylabX: 517.3, ylabY: 90, tulX: 964, tulY: 441.7,
   legX: 822, legY: 79, legDy: 20.8, legTx: 65.7},
  {x0: 45, x1: 426.7, xEnd: 449, y0: 889, y6: 586.7, yTop: 563.3, zeroX: true,
   titleX: 260.3, titleY: 501.7, titleW: 210.7, ylabX: 11.7, ylabY: 553.3, tulX: 458.3, tulY: 903.3,
   legX: 316, legY: 542.3, legDy: 21, legTx: 65.7},
  {x0: 551, x1: 932.7, xEnd: 955, y0: 889, y6: 586.7, yTop: 564, zeroX: true,
   titleX: 750, titleY: 501.7, titleW: 200, ylabX: 517.3, ylabY: 554, tulX: 964, tulY: 903,
   legX: 822, legY: 542.3, legDy: 21, legTx: 65.7}
];
var panelData = [[presentK, presentR, presentB], [ogerK, ogerR, ogerB], [lindK, lindR, lindB], [sunK, sunR, sunB]];

var svg = d3.select("#fig");
var fmt = function(d) { return String(d); };

frames.forEach(function(L, p) {
  var tEnd = (L.xEnd - L.x0) / (L.x1 - L.x0);
  var vTop = 0.6 * (L.y0 - L.yTop) / (L.y0 - L.y6);
  var x = d3.scaleLinear().domain([0, tEnd]).range([L.x0, L.xEnd]);
  var y = d3.scaleLinear().domain([0, vTop]).range([L.y0, L.yTop]);
  var g = svg.append("g");

  // minor ticks every 0.05
  var xMinor = d3.range(1, 22).map(function(i) { return +(i * 0.05).toFixed(2); })
    .filter(function(v) { return v <= tEnd + 1e-9 && Math.abs(v * 5 - Math.round(v * 5)) > 1e-6; });
  var yMinor = d3.range(1, 14).map(function(i) { return +(i * 0.05).toFixed(2); })
    .filter(function(v) { return v <= vTop && Math.abs(v * 5 - Math.round(v * 5)) > 1e-6; });

  g.append("g").attr("transform", "translate(0," + L.y0 + ")")
    .call(d3.axisBottom(x).tickValues(xMinor).tickSize(-4.5).tickSizeOuter(0).tickFormat(""));
  g.append("g").attr("transform", "translate(" + L.x0 + ",0)")
    .call(d3.axisLeft(y).tickValues(yMinor).tickSize(-4.5).tickSizeOuter(0).tickFormat(""));

  var xMajor = L.zeroX ? [0].concat(xTickValues) : xTickValues;
  var gx = g.append("g").attr("transform", "translate(0," + L.y0 + ")")
    .call(d3.axisBottom(x).tickValues(xMajor).tickSize(-8).tickSizeOuter(0).tickPadding(4.6).tickFormat(fmt));
  var gy = g.append("g").attr("transform", "translate(" + L.x0 + ",0)")
    .call(d3.axisLeft(y).tickValues(yTickValues).tickSize(-8).tickSizeOuter(0).tickPadding(2.5).tickFormat(fmt));

  g.selectAll(".domain").attr("stroke", "#000").attr("stroke-width", 1.5);
  g.selectAll(".tick line").attr("stroke", "#000").attr("stroke-width", 1.2);
  [gx, gy].forEach(function(a) {
    a.attr("font-family", SERIF).attr("font-size", 18.5);
    a.selectAll("text").attr("font-family", SERIF).attr("fill", "#000");
  });
  gx.selectAll(".tick").filter(function(d) { return d === 0; }).select("line").remove();
  gy.selectAll(".tick").filter(function(d) { return d === 0; }).select("line").remove();

  // clipped data lines
  var clipId = "clip" + p;
  svg.append("clipPath").attr("id", clipId).append("rect")
    .attr("x", L.x0 - 1).attr("y", L.yTop).attr("width", L.xEnd - L.x0 + 1).attr("height", L.y0 - L.yTop + 1);
  var line = d3.line().x(function(d) { return x(d[0]); }).y(function(d) { return y(d[1]); });
  g.append("g").attr("clip-path", "url(#" + clipId + ")")
    .selectAll("path").data(panelData[p]).join("path")
    .attr("d", line).attr("fill", "none")
    .attr("stroke", function(d, i) { return seriesColors[i]; })
    .attr("stroke-width", 1.3).attr("stroke-linejoin", "round");

  // title
  var T = titles[p];
  var tt = svg.append("text").attr("x", L.titleX).attr("y", L.titleY).attr("text-anchor", "middle")
    .attr("font-family", "DejaVu Serif").attr("font-weight", "bold").attr("font-size", 24)
    .attr("textLength", L.titleW).attr("lengthAdjust", "spacingAndGlyphs");
  tt.append("tspan").text(T[0] + " ");
  if (T[1]) tt.append("tspan").attr("font-style", "italic").text(T[1] + " ");
  tt.append("tspan").text(T[2]);

  // axis titles
  var yl = svg.append("text").attr("x", L.ylabX).attr("y", L.ylabY)
    .attr("font-family", SERIF).attr("font-size", 19).attr("fill", "#000");
  yl.append("tspan").text("||\u03b4u||");
  yl.append("tspan").attr("dy", 5).attr("font-size", 11).text("max");
  yl.append("tspan").attr("dy", -5).text("/U");
  svg.append("text").attr("x", L.tulX).attr("y", L.tulY)
    .attr("font-family", SERIF).attr("font-size", 19).text("tU/L");

  // legend
  var leg = svg.append("g");
  seriesNames.forEach(function(name, i) {
    var ly = L.legY + i * L.legDy;
    leg.append("line").attr("x1", L.legX).attr("x2", L.legX + 51).attr("y1", ly).attr("y2", ly)
      .attr("stroke", seriesColors[i]).attr("stroke-width", 1.6);
    leg.append("text").attr("x", L.legX + L.legTx).attr("y", ly + 6.3)
      .attr("font-family", SERIF).attr("font-size", 19.5).text(name);
  });
});
</script>
</body>
</html>
